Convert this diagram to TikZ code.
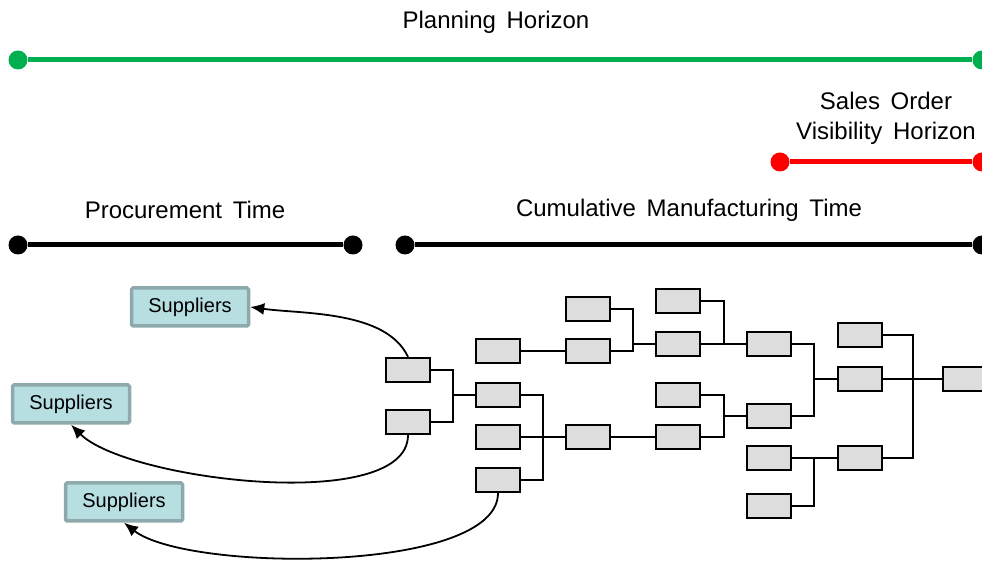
\documentclass[tikz,border=0pt]{standalone}
\usepackage{fontspec}
\setmainfont{Liberation Sans}[WordSpace=1.6]
\usetikzlibrary{arrows.meta}
\definecolor{supfill}{HTML}{B7DEE0}
\definecolor{supedge}{HTML}{8DA9AB}
\definecolor{plangreen}{HTML}{00B050}

\begin{document}
\begin{tikzpicture}
    [
    x=1pt, y=1pt,
    every node/.style={font=\fontsize{24}{30}\selectfont},
    part/.style={draw, fill=gray!27, line width=2.2pt, minimum width=44pt, minimum height=24pt, inner sep=0pt},
    supplier/.style={draw=supedge, fill=supfill, line width=3.5pt, rounded corners=1.5pt, minimum width=117pt, minimum height=38pt, inner sep=0pt, font=\fontsize{20}{24}\selectfont},
    wire/.style={line width=1.8pt},
    feed/.style={line width=1.8pt, -{Latex[length=14pt,width=12pt]}},
    dot/.style={circle, fill=#1, minimum size=19pt, inner sep=0pt},
    span/.style={line width=5pt, draw=#1},
    ]
    \useasboundingbox (0,0) rectangle (982,561);

    % horizons
    \node (lbl_plan) at (496,539) {Planning Horizon};
    \node[dot=plangreen] (plan_l) at (18,501) {};
    \node[dot=plangreen] (plan_r) at (982,501) {};
    \draw[span=plangreen] (plan_l) -- (plan_r);

    \node[align=center] (lbl_sales) at (886,443) {Sales Order\\Visibility Horizon};
    \node[dot=red] (sales_l) at (780,399) {};
    \node[dot=red] (sales_r) at (982,399) {};
    \draw[span=red] (sales_l) -- (sales_r);

    \node (lbl_proc) at (185,351) {Procurement Time};
    \node[dot=black] (proc_l) at (18,316) {};
    \node[dot=black] (proc_r) at (353,316) {};
    \draw[span=black] (proc_l) -- (proc_r);

    \node (lbl_cum) at (689,351) {Cumulative Manufacturing Time};
    \node[dot=black] (cum_l) at (405,316) {};
    \node[dot=black] (cum_r) at (982,316) {};
    \draw[span=black] (cum_l) -- (cum_r);

    % suppliers
    \node[supplier] (sup_top) at (190,254) {Suppliers};
    \node[supplier] (sup_mid) at (71,157) {Suppliers};
    \node[supplier] (sup_low) at (124,59) {Suppliers};

    % bill of material
    \node[part] (box_p1) at (408,191) {};
    \node[part] (box_p2) at (408,139) {};
    \node[part] (box_a1) at (498,210) {};
    \node[part] (box_a2) at (498,166) {};
    \node[part] (box_a3) at (498,124) {};
    \node[part] (box_a4) at (498,81) {};
    \node[part] (box_b1) at (588,252) {};
    \node[part] (box_b2) at (588,210) {};
    \node[part] (box_b3) at (588,124) {};
    \node[part] (box_c1) at (678,260) {};
    \node[part] (box_c2) at (678,217) {};
    \node[part] (box_c3) at (678,166) {};
    \node[part] (box_c4) at (678,124) {};
    \node[part] (box_d1) at (769,217) {};
    \node[part] (box_d2) at (769,145) {};
    \node[part] (box_d3) at (769,103) {};
    \node[part] (box_d4) at (769,55) {};
    \node[part] (box_e1) at (860,226) {};
    \node[part] (box_e2) at (860,182) {};
    \node[part] (box_e3) at (860,103) {};
    \node[part, minimum width=46pt] (box_f1) at (966,182) {};

    \coordinate (join_p) at (453,166);
    \coordinate (join_a) at (543,124);
    \coordinate (join_b) at (633,217);
    \coordinate (join_c1) at (724,217);
    \coordinate (join_c2) at (724,145);
    \coordinate (join_d1) at (814,182);
    \coordinate (join_d2) at (814,103);
    \coordinate (join_e) at (913,182);

    \draw[wire] (box_p1.east) -| (join_p) |- (box_p2.east);
    \draw[wire] (join_p) -- (box_a2.west);
    \draw[wire] (box_a2.east) -| (join_a) |- (box_a4.east);
    \draw[wire] (box_a3) -- (box_b3);
    \draw[wire] (box_a1) -- (box_b2);
    \draw[wire] (box_b1.east) -| (join_b) |- (box_b2.east);
    \draw[wire] (join_b) -- (box_c2.west);
    \draw[wire] (box_c1.east) -| (join_c1);
    \draw[wire] (box_c2) -- (box_d1);
    \draw[wire] (box_b3) -- (box_c4);
    \draw[wire] (box_c3.east) -| (join_c2) |- (box_c4.east);
    \draw[wire] (join_c2) -- (box_d2.west);
    \draw[wire] (box_d1.east) -| (join_d1) |- (box_d2.east);
    \draw[wire] (join_d1) -- (box_e2.west);
    \draw[wire] (box_d3) -- (box_e3);
    \draw[wire] (box_d4.east) -| (join_d2);
    \draw[wire] (box_e1.east) -| (join_e) |- (box_e3.east);
    \draw[wire] (box_e2) -- (box_f1);

    % purchased parts
    \draw[feed] (box_p1.north) to[out=115, in=-8, looseness=0.8] (sup_top.east);
    \draw[feed] (box_p2.south) to[out=-90, in=-45, looseness=0.6] (sup_mid.south);
    \draw[feed] (box_a4.south) to[out=-90, in=-38, looseness=0.55] (sup_low.south);
\end{tikzpicture}
\end{document}
